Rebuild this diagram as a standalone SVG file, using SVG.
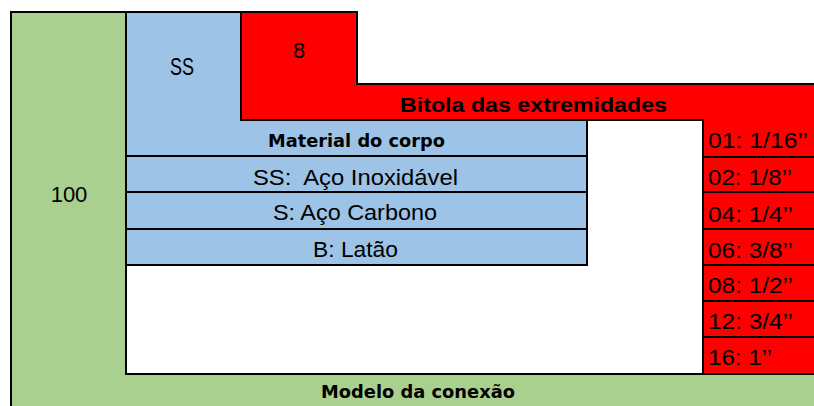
<svg xmlns="http://www.w3.org/2000/svg" width="814" height="406" viewBox="0 0 814 406">
<style>
.b{stroke:#000;stroke-width:2;stroke-linejoin:miter}
.g{fill:#a9d08e}
.bl{fill:#9dc3e6}
.r{fill:#ff0000}
.t{font-family:"Liberation Sans",Arial,sans-serif;font-size:22px;fill:#000}
.tb{font-family:"DejaVu Sans",Verdana,sans-serif;font-weight:bold;font-size:18px;fill:#000}
.rb{font-family:"Liberation Sans",Arial,sans-serif;font-weight:bold;font-size:21px;fill:#000}
</style>
<rect width="814" height="406" fill="#fff"/>
<g id="modelo">
<path class="b g" d="M11,12 H126 V374 H816 V408 H11 Z"/>
<text class="t" x="69" y="202" text-anchor="middle">100</text>
<text class="tb" x="418" y="398" text-anchor="middle" textLength="194" lengthAdjust="spacingAndGlyphs">Modelo da conexão</text>
</g>
<g id="material">
<path class="b bl" d="M126,12 H241 V120 H587 V265 H126 Z"/>
<text class="t" x="182" y="75" text-anchor="middle" style="font-size:23px" textLength="24" lengthAdjust="spacingAndGlyphs">SS</text>
<text class="tb" x="356.5" y="147" text-anchor="middle" textLength="177" lengthAdjust="spacingAndGlyphs">Material do corpo</text>
<line class="b" x1="126" y1="156" x2="587" y2="156"/>
<text class="t" x="355.5" y="185" text-anchor="middle" xml:space="preserve" textLength="205" lengthAdjust="spacingAndGlyphs">SS:  Aço Inoxidável</text>
<line class="b" x1="126" y1="192" x2="587" y2="192"/>
<text class="t" x="355" y="220" text-anchor="middle" textLength="164" lengthAdjust="spacingAndGlyphs">S: Aço Carbono</text>
<line class="b" x1="126" y1="229" x2="587" y2="229"/>
<text class="t" x="355.5" y="257" text-anchor="middle" textLength="85" lengthAdjust="spacingAndGlyphs">B: Latão</text>
</g>
<g id="bitola">
<path class="b r" d="M241,12 H357 V84 H816 V374 H703 V120 H241 Z"/>
<text class="t" x="299" y="58" text-anchor="middle">8</text>
<text class="rb" x="533.5" y="112" text-anchor="middle" textLength="267" lengthAdjust="spacingAndGlyphs">Bitola das extremidades</text>
<line class="b" x1="703" y1="157" x2="816" y2="157"/>
<line class="b" x1="703" y1="192" x2="816" y2="192"/>
<line class="b" x1="703" y1="229" x2="816" y2="229"/>
<line class="b" x1="703" y1="265" x2="816" y2="265"/>
<line class="b" x1="703" y1="301" x2="816" y2="301"/>
<line class="b" x1="703" y1="337" x2="816" y2="337"/>
<text class="t" x="708" y="148" textLength="100" lengthAdjust="spacingAndGlyphs">01: 1/16’’</text>
<text class="t" x="708" y="185" textLength="84" lengthAdjust="spacingAndGlyphs">02: 1/8’’</text>
<text class="t" x="708" y="222" textLength="85" lengthAdjust="spacingAndGlyphs">04: 1/4’’</text>
<text class="t" x="708" y="258" textLength="85" lengthAdjust="spacingAndGlyphs">06: 3/8’’</text>
<text class="t" x="708" y="293" textLength="85" lengthAdjust="spacingAndGlyphs">08: 1/2’’</text>
<text class="t" x="708" y="329" textLength="85" lengthAdjust="spacingAndGlyphs">12: 3/4’’</text>
<text class="t" x="708" y="365" textLength="64" lengthAdjust="spacingAndGlyphs">16: 1’’</text>
</g>
<g id="connectors"></g>
</svg>
